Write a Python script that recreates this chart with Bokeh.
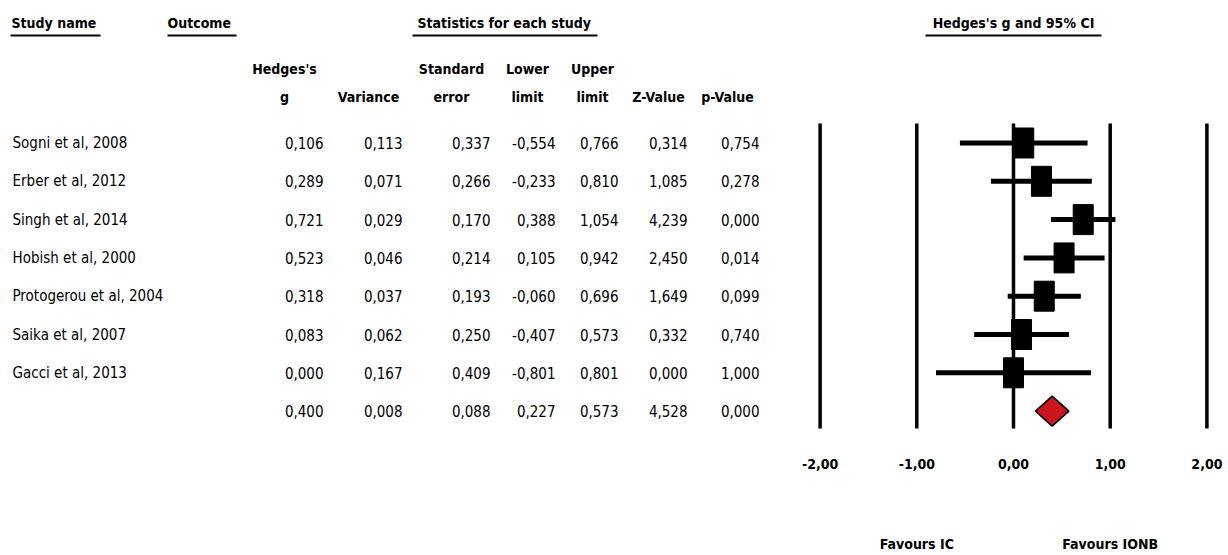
from bokeh.plotting import figure
from bokeh.layouts import row
from bokeh.models import Range1d, ColumnDataSource
from bokeh.core.properties import value
from bokeh.embed import file_html
from bokeh.resources import INLINE

# ---------------- data ----------------
studies = ["Sogni et al, 2008", "Erber et al, 2012", "Singh et al, 2014",
           "Hobish et al, 2000", "Protogerou et al, 2004", "Saika et al, 2007",
           "Gacci et al, 2013"]
hedges_g = [0.106, 0.289, 0.721, 0.523, 0.318, 0.083, 0.000]
variance = [0.113, 0.071, 0.029, 0.046, 0.037, 0.062, 0.167]
std_err = [0.337, 0.266, 0.170, 0.214, 0.193, 0.250, 0.409]
lower = [-0.554, -0.233, 0.388, 0.105, -0.060, -0.407, -0.801]
upper = [0.766, 0.810, 1.054, 0.942, 0.696, 0.573, 0.801]
z_value = [0.314, 1.085, 4.239, 2.450, 1.649, 0.332, 0.000]
p_value = [0.754, 0.278, 0.000, 0.014, 0.099, 0.740, 1.000]

summary = dict(g=0.400, var=0.008, se=0.088, lo=0.227, up=0.573, z=4.528, p=0.000)

axis_ticks = [-2, -1, 0, 1, 2]
tick_labels = ["-2,00", "-1,00", "0,00", "1,00", "2,00"]
favours = ["Favours IC", "Favours IONB"]
favours_at = [-1, 1]

col_headers_top = ["Hedges's", "", "Standard", "Lower", "Upper", "", ""]
col_headers_bot = ["g", "Variance", "error", "limit", "limit", "Z-Value", "p-Value"]

# ---------------- layout constants ----------------
H = 553
W_TABLE = 800
W_FOREST = 426
ROW_PX = 38.3          # vertical distance between rows, px
ROW1_PX = 142.5        # px of first row from top
Y_TOP = 1 - ROW1_PX / ROW_PX
Y_BOT = 1 + (H - ROW1_PX) / ROW_PX


def yr(px):
    return 1 + (px - ROW1_PX) / ROW_PX


FONT = "DejaVu Sans Condensed"
FS = "15px"
FSB = "14px"

n = len(studies)
rows_y = list(range(1, n + 1))
sum_y = n + 1


def fmt(v):
    return f"{v:.3f}".replace(".", ",")


# ---------------- table figure ----------------
t = figure(width=W_TABLE, height=H, x_range=Range1d(0, W_TABLE),
           y_range=Range1d(Y_BOT, Y_TOP), output_backend="svg",
           toolbar_location=None, x_axis_location=None, y_axis_location=None,
           min_border=0, outline_line_color=None)
t.grid.visible = False

# top headers with underlines
hdr_txt = ["Study name", "Outcome", "Statistics for each study"]
hdr_x = [11, 167, 417]
t.text(x=hdr_x, y=[yr(22)] * 3, text=hdr_txt, text_font=value(FONT),
       text_font_style="bold", text_font_size=FSB, text_baseline="middle",
       text_align="left", text_color="black")
t.segment(x0=[10, 167, 412], y0=[yr(35)] * 3, x1=[100, 236, 597], y1=[yr(35)] * 3,
          line_color="black", line_width=2)

# column headers
hx = [284, 368, 451, 527, 592, 658, 727]
t.text(x=hx, y=[yr(68)] * 7, text=col_headers_top, text_font=value(FONT),
       text_font_style="bold", text_font_size=FSB, text_baseline="middle",
       text_align="center", text_color="black")
t.text(x=hx, y=[yr(96)] * 7, text=col_headers_bot, text_font=value(FONT),
       text_font_style="bold", text_font_size=FSB, text_baseline="middle",
       text_align="center", text_color="black")

# study names
t.text(x=[12] * n, y=rows_y, text=studies, text_font=value(FONT),
       text_font_size=FS, text_baseline="middle", text_align="left",
       text_color="black")

# numeric columns (right-aligned)
col_right = [323, 402, 490, 555, 618, 687, 759]
cols = [hedges_g, variance, std_err, lower, upper, z_value, p_value]
sum_vals = [summary["g"], summary["var"], summary["se"], summary["lo"],
            summary["up"], summary["z"], summary["p"]]
for xr, vals, sv in zip(col_right, cols, sum_vals):
    src = ColumnDataSource(dict(x=[xr] * (n + 1), y=rows_y + [sum_y],
                                txt=[fmt(v) for v in vals] + [fmt(sv)]))
    t.text(x="x", y="y", text="txt", source=src, text_font=value(FONT),
           text_font_size=FS, text_baseline="middle", text_align="right",
           text_color="black")

# ---------------- forest figure ----------------
PX_PER_UNIT = 96.7
ZERO_PX = 1013 - W_TABLE
f = figure(width=W_FOREST, height=H,
           x_range=Range1d(-ZERO_PX / PX_PER_UNIT, (W_FOREST - ZERO_PX) / PX_PER_UNIT),
           y_range=Range1d(Y_BOT, Y_TOP), output_backend="svg",
           toolbar_location=None, x_axis_location=None, y_axis_location=None,
           min_border=0, outline_line_color=None)
f.grid.visible = False

# header
f.text(x=[0], y=[yr(22)], text=["Hedges's g and 95% CI"], text_font=value(FONT),
       text_font_style="bold", text_font_size=FSB, text_baseline="middle",
       text_align="center", text_color="black")
f.segment(x0=[-0.91], y0=[yr(35)], x1=[0.91], y1=[yr(35)], line_color="black",
          line_width=2)

# vertical reference lines
f.segment(x0=axis_ticks, y0=[yr(123)] * 5, x1=axis_ticks, y1=[yr(428)] * 5,
          line_color="black", line_width=3.5)

# CIs and point estimates
f.segment(x0=lower, y0=rows_y, x1=upper, y1=rows_y, line_color="black",
          line_width=5)
f.rect(x=hedges_g, y=rows_y, width=20, height=30, width_units="screen",
       height_units="screen", fill_color="black", line_color="black")

# summary diamond
dh = 15 / ROW_PX
f.patch(x=[summary["lo"], summary["g"], summary["up"], summary["g"]],
        y=[sum_y, sum_y - dh, sum_y, sum_y + dh],
        fill_color="#c8161d", line_color="black", line_width=1.5)

# tick labels
f.text(x=axis_ticks, y=[yr(463)] * 5, text=tick_labels, text_font=value(FONT),
       text_font_style="bold", text_font_size=FSB, text_baseline="middle",
       text_align="center", text_color="black")

# favours labels
f.text(x=favours_at, y=[yr(543)] * 2, text=favours, text_font=value(FONT),
       text_font_style="bold", text_font_size=FSB, text_baseline="middle",
       text_align="center", text_color="black")

layout = row(t, f)
open("out.html", "w").write(file_html(layout, INLINE))
